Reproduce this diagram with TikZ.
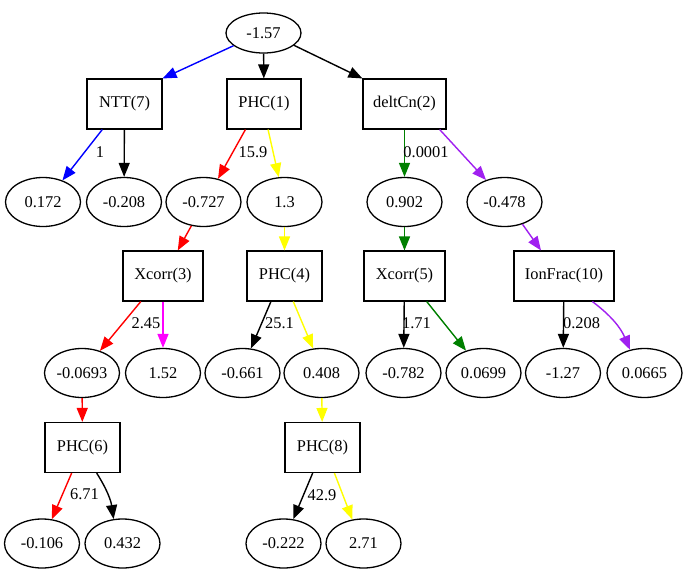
\documentclass[tikz,border=0pt]{standalone}
\usepackage{fontspec}
\setmainfont{Liberation Serif}
\usetikzlibrary{shapes.geometric,arrows.meta}
\definecolor{gvgreen}{RGB}{0,128,0}
\definecolor{gvpurple}{RGB}{160,32,240}
\definecolor{gvyellow}{RGB}{255,255,0}
\definecolor{gvmagenta}{RGB}{255,0,255}
\begin{document}
\begin{tikzpicture}[x=1pt,y=-1pt,
  every node/.style={font=\fontsize{16.4}{19}\selectfont, inner sep=0pt},
  leaf/.style={ellipse, draw, line width=1.3pt, minimum width=75pt, minimum height=49pt},
  split/.style={rectangle, draw, line width=1.1pt, minimum height=50pt},
  elabel/.style={},
  e/.style={line width=1.4pt, -{Triangle[length=14pt,width=11pt]}}
]
\useasboundingbox[fill=white] (0,0) rectangle (685,573);

% nodes
\node[leaf, minimum height=40pt] (root) at (263.5,33) {-1.57};
\node[split, minimum width=75pt] (ntt) at (124.5,104) {NTT(7)};
\node[split, minimum width=74pt] (phc1) at (264,104) {PHC(1)};
\node[split, minimum width=83pt] (dcn) at (404.5,104) {deltCn(2)};

\node[leaf] (e0172) at (43,202) {0.172};
\node[leaf] (e0208) at (124,202) {-0.208};
\node[leaf] (e0727) at (203.5,202) {-0.727};
\node[leaf] (e13) at (284.5,202) {1.3};
\node[leaf] (e0902) at (404.5,202) {0.902};
\node[leaf] (e0478) at (504.5,202) {-0.478};

\node[split, minimum width=80pt] (xc3) at (163,276) {Xcorr(3)};
\node[split, minimum width=75pt] (phc4) at (284.5,276) {PHC(4)};
\node[split, minimum width=81pt] (xc5) at (404.5,276) {Xcorr(5)};
\node[split, minimum width=100pt] (ion) at (564,276) {IonFrac(10)};

\node[leaf] (e0693) at (82,373) {-0.0693};
\node[leaf] (e152) at (163,373) {1.52};
\node[leaf] (e0661) at (242.5,373) {-0.661};
\node[leaf] (e0408) at (321.5,373) {0.408};
\node[leaf] (e0782) at (403.5,373) {-0.782};
\node[leaf] (e0699) at (483.5,373) {0.0699};
\node[leaf] (e127) at (563,373) {-1.27};
\node[leaf] (e0665) at (644.5,373) {0.0665};

\node[split, minimum width=75pt] (phc6) at (82.5,447.5) {PHC(6)};
\node[split, minimum width=75pt] (phc8) at (322.5,447.5) {PHC(8)};

\node[leaf] (e0106) at (42,543.5) {-0.106};
\node[leaf] (e0432) at (122.5,543.5) {0.432};
\node[leaf] (e0222) at (283.5,543.5) {-0.222};
\node[leaf] (e271) at (363.5,543.5) {2.71};

% edges
\draw[e, blue] (root.203) -- (ntt.north east);
\draw[e] (root) -- (phc1);
\draw[e] (root.338) -- (dcn.north west);

\draw[e, blue] (ntt.229) -- (e0172.48);
\draw[e] (ntt) -- (e0208);

\draw[e, red] (phc1.234) -- (e0727.58);
\draw[e, gvyellow] (phc1.-81) -- (e13.103);

\draw[e, gvgreen] (dcn) -- (e0902);
\draw[e, gvpurple] (dcn.-36) -- (e0478.130);

\draw[e, red] (e0727.243) -- (xc3.60);
\draw[e, gvyellow] (e13) -- (phc4);
\draw[e, gvgreen] (e0902) -- (xc5);
\draw[e, gvpurple] (e0478.-51) -- (ion.132);

\draw[e, red] (xc3.229) -- (e0693.51);
\draw[e, gvmagenta] (xc3) -- (e152);
\draw[e] (phc4.242) -- (e0661.71);
\draw[e, gvyellow] (phc4.-71) -- (e0408.109);
\draw[e] (xc5) -- (e0782);
\draw[e, gvgreen] (xc5.-49) -- (e0699.128);
\draw[e] (ion) -- (e127);
\draw[e, gvpurple] (ion.-42) to[bend left=15] (e0665.122);

\draw[e, red] (e0693) -- (phc6);
\draw[e, gvyellow] (e0408) -- (phc8);

\draw[e, red] (phc6.247) -- (e0106.68);
\draw[e] (phc6.-61) to[bend left=12] (e0432.110);
\draw[e] (phc8.249) -- (e0222.68);
\draw[e, gvyellow] (phc8.-65) -- (e271.115);

% edge labels
\node[elabel] (l1) at (100,152) {1};
\node[elabel] (l159) at (253,152) {15.9};
\node[elabel] (l0001) at (426,152) {0.0001};
\node[elabel] (l245) at (146,323) {2.45};
\node[elabel] (l251) at (279.5,323) {25.1};
\node[elabel] (l171) at (416.5,323) {1.71};
\node[elabel] (l0208) at (581.5,323) {0.208};
\node[elabel] (l671) at (84.5,494) {6.71};
\node[elabel] (l429) at (322,495) {42.9};
\end{tikzpicture}
\end{document}
